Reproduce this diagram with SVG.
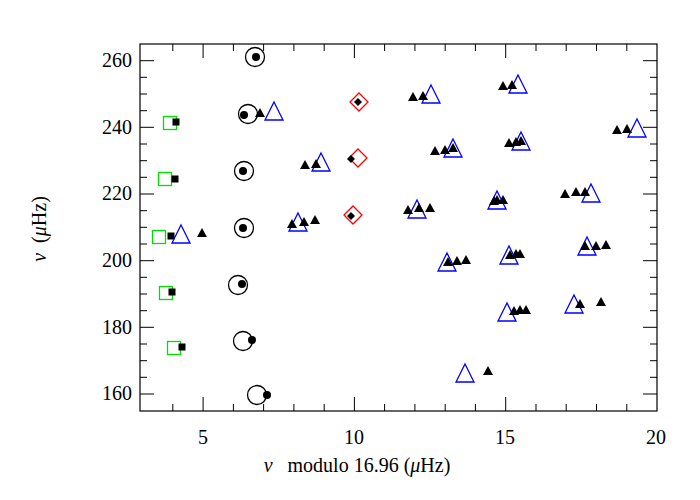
<svg xmlns="http://www.w3.org/2000/svg" width="700" height="500" viewBox="0 0 700 500">
<defs>
<style>
text{font-family:"Liberation Serif","DejaVu Serif",serif;font-size:20px;fill:#000}
.ax{fill:none;stroke:#000;stroke-width:1.2}
.tk{stroke:#000;stroke-width:1}
.oc{fill:none;stroke:#000;stroke-width:1.3}
.sq{fill:none;stroke:#00e000;stroke-width:1.3}
.bt{fill:none;stroke:#0000ff;stroke-width:1.3}
.rd{fill:none;stroke:#ff0000;stroke-width:1.3}
</style>
<circle id="dot" r="4" fill="#000"/>
<rect id="bsq" x="-3.5" y="-3.5" width="7" height="7" fill="#000"/>
<polygon id="st" points="0,-5 5,4 -5,4" fill="#000"/>
<polygon id="bdm" points="0,-4 4,0 0,4 -4,0" fill="#000"/>
<polygon id="BT" points="0,-10 9,8 -9,8" class="bt"/>
<rect id="GS" x="-6.5" y="-6.5" width="13" height="13" class="sq"/>
<polygon id="RD" points="0,-9 9,0 0,9 -9,0" class="rd"/>
<circle id="OC" r="9.5" class="oc"/>
</defs>
<rect width="700" height="500" fill="#fff"/>
<g id="axes">
<rect x="140" y="44" width="517" height="367" class="ax"/>
<path class="tk" d="M140 60.7h14M140 127.3h14M140 194h14M140 260.7h14M140 327.3h14M140 394h14
M140 77.3h7M140 94h7M140 110.7h7M140 144h7M140 160.7h7M140 177.3h7M140 210.7h7M140 227.3h7M140 244h7M140 277.3h7M140 294h7M140 310.7h7M140 344h7M140 360.7h7M140 377.3h7
M657 60.7h-14M657 127.3h-14M657 194h-14M657 260.7h-14M657 327.3h-14M657 394h-14
M657 77.3h-7M657 94h-7M657 110.7h-7M657 144h-7M657 160.7h-7M657 177.3h-7M657 210.7h-7M657 227.3h-7M657 244h-7M657 277.3h-7M657 294h-7M657 310.7h-7M657 344h-7M657 360.7h-7M657 377.3h-7
M203.1 411v-14M354.4 411v-14M505.7 411v-14
M172.8 411v-7M233.4 411v-7M263.6 411v-7M293.9 411v-7M324.2 411v-7M384.6 411v-7M414.9 411v-7M445.2 411v-7M475.4 411v-7M536 411v-7M566.2 411v-7M596.5 411v-7M626.8 411v-7
M203.1 44v14M354.4 44v14M505.7 44v14
M172.8 44v7M233.4 44v7M263.6 44v7M293.9 44v7M324.2 44v7M384.6 44v7M414.9 44v7M445.2 44v7M475.4 44v7M536 44v7M566.2 44v7M596.5 44v7M626.8 44v7"/>
<g text-anchor="end">
<text x="132" y="67">260</text><text x="132" y="134">240</text><text x="132" y="200">220</text>
<text x="132" y="267">200</text><text x="132" y="334">180</text><text x="132" y="400">160</text>
</g>
<g text-anchor="middle">
<text x="203" y="444">5</text><text x="354" y="444">10</text><text x="505" y="444">15</text><text x="656" y="444">20</text>
<text x="357" y="472" xml:space="preserve"><tspan font-style="italic">ν</tspan>   modulo 16.96 (<tspan font-style="italic">μ</tspan>Hz)</text>
<text transform="translate(46,229) rotate(-90)" xml:space="preserve"><tspan font-style="italic">ν</tspan>  (<tspan font-style="italic">μ</tspan>Hz)</text>
</g>
</g>
<g id="circles">
<use href="#OC" x="255" y="57"/><use href="#dot" x="256" y="57"/>
<use href="#OC" x="248" y="114"/><use href="#dot" x="244" y="115"/>
<use href="#OC" x="244" y="171"/><use href="#dot" x="243" y="171"/>
<use href="#OC" x="244" y="228"/><use href="#dot" x="243" y="228"/>
<use href="#OC" x="238" y="285"/><use href="#dot" x="242" y="284"/>
<use href="#OC" x="243" y="341"/><use href="#dot" x="252" y="340"/>
<use href="#OC" x="257" y="395"/><use href="#dot" x="267" y="395"/>
</g>
<g id="squares">
<use href="#GS" x="170" y="123"/><use href="#bsq" x="176" y="122"/>
<use href="#GS" x="165" y="179"/><use href="#bsq" x="175" y="179"/>
<use href="#GS" x="159" y="237"/><use href="#bsq" x="171" y="236"/>
<use href="#GS" x="166" y="293"/><use href="#bsq" x="172" y="292"/>
<use href="#GS" x="174" y="348"/><use href="#bsq" x="182" y="347"/>
</g>
<g id="diamonds">
<use href="#RD" x="359" y="102"/><use href="#bdm" x="358" y="102"/>
<use href="#RD" x="358" y="158"/><use href="#bdm" x="351" y="159"/>
<use href="#RD" x="353" y="215"/><use href="#bdm" x="351" y="216"/>
</g>
<g id="triangles">
<use href="#BT" x="274" y="112"/><use href="#st" x="260" y="113"/>
<use href="#BT" x="321" y="163"/><use href="#st" x="305" y="165"/><use href="#st" x="316" y="164"/>
<use href="#BT" x="298" y="223"/><use href="#st" x="292" y="224"/><use href="#st" x="304" y="222"/><use href="#st" x="315" y="220"/>
<use href="#BT" x="181" y="235"/><use href="#st" x="202" y="233"/>
<use href="#BT" x="431" y="95"/><use href="#st" x="413" y="97"/><use href="#st" x="423" y="96"/>
<use href="#BT" x="453" y="149"/><use href="#st" x="435" y="151"/><use href="#st" x="445" y="150"/><use href="#st" x="453" y="148"/>
<use href="#BT" x="417" y="210"/><use href="#st" x="408" y="210"/><use href="#st" x="419" y="208"/><use href="#st" x="430" y="208"/>
<use href="#BT" x="518" y="85"/><use href="#st" x="503" y="86"/><use href="#st" x="512" y="85"/>
<use href="#BT" x="521" y="142"/><use href="#st" x="509" y="143"/><use href="#st" x="516" y="142"/><use href="#st" x="521" y="141"/>
<use href="#BT" x="497" y="201"/><use href="#st" x="494" y="201"/><use href="#st" x="497" y="200"/><use href="#st" x="503" y="200"/>
<use href="#BT" x="591" y="194"/><use href="#st" x="565" y="194"/><use href="#st" x="576" y="192"/><use href="#st" x="585" y="192"/>
<use href="#BT" x="637" y="129"/><use href="#st" x="617" y="130"/><use href="#st" x="627" y="129"/>
<use href="#BT" x="447" y="263"/><use href="#st" x="448" y="262"/><use href="#st" x="457" y="261"/><use href="#st" x="466" y="260"/>
<use href="#BT" x="509" y="256"/><use href="#st" x="510" y="255"/><use href="#st" x="516" y="254"/><use href="#st" x="520" y="254"/>
<use href="#BT" x="587" y="247"/><use href="#st" x="585" y="246"/><use href="#st" x="596" y="246"/><use href="#st" x="606" y="245"/>
<use href="#BT" x="507" y="313"/><use href="#st" x="514" y="311"/><use href="#st" x="520" y="310"/><use href="#st" x="526" y="310"/>
<use href="#BT" x="574" y="305"/><use href="#st" x="580" y="304"/><use href="#st" x="601" y="302"/>
<use href="#BT" x="465" y="374"/><use href="#st" x="488" y="371"/>
</g>
</svg>
